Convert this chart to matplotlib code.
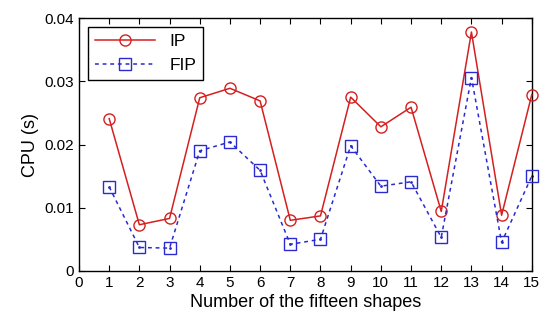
import matplotlib
matplotlib.use('Agg')
import matplotlib.pyplot as plt

shapes = list(range(1, 16))
ip = [0.0241, 0.0073, 0.0083, 0.0274, 0.0289, 0.0269, 0.0080, 0.0087,
      0.0275, 0.0228, 0.0259, 0.0094, 0.0378, 0.0088, 0.0279]
fip = [0.0133, 0.0037, 0.0036, 0.0190, 0.0204, 0.0159, 0.0042, 0.0050,
       0.0198, 0.0134, 0.0141, 0.0053, 0.0306, 0.0045, 0.0150]
xticks = list(range(0, 16))
yticks = [0, 0.01, 0.02, 0.03, 0.04]
ytick_labels = ['0', '0.01', '0.02', '0.03', '0.04']

plt.rcParams['font.family'] = ['Liberation Sans', 'DejaVu Sans']

fig = plt.figure(figsize=(5.41, 3.24), dpi=100)
ax = fig.add_axes([0.146, 0.164, 0.837, 0.780])

ax.plot(shapes, ip, color='#d42020', linewidth=1.1, marker='o', markersize=8,
        markerfacecolor='none', markeredgecolor='#d42020', markeredgewidth=1.0,
        label='IP', clip_on=False, zorder=3)
ax.plot(shapes, fip, color='#2a2ad0', linewidth=1.1, linestyle=(0, (2.5, 2.5)), marker='s',
        markersize=8, markerfacecolor='none', markeredgecolor='#2a2ad0',
        markeredgewidth=1.0, label='FIP', clip_on=False, zorder=3)
ax.plot(shapes, fip, linestyle='none', marker='.', markersize=2, color='#2a2ad0',
        clip_on=False)

ax.set_xlim(0, 15)
ax.set_ylim(0, 0.04)
ax.set_xticks(xticks)
ax.set_yticks(yticks)
ax.set_yticklabels(ytick_labels)
ax.tick_params(direction='in', top=True, right=True, length=4, labelsize=11)
for s in ax.spines.values():
    s.set_linewidth(1.0)

ax.set_xlabel('Number of the fifteen shapes', fontsize=13, labelpad=3)
ax.set_ylabel('CPU (s)', fontsize=13)

handles, labels = ax.get_legend_handles_labels()
leg = ax.legend(handles[:2], labels[:2], loc='upper left', fontsize=12.5, fancybox=False,
                edgecolor='black', framealpha=1, handlelength=3.5,
                borderaxespad=0.5, bbox_to_anchor=(0.0, 1.0))
leg.get_frame().set_linewidth(1.0)

fig.savefig('out.png', dpi=100)
